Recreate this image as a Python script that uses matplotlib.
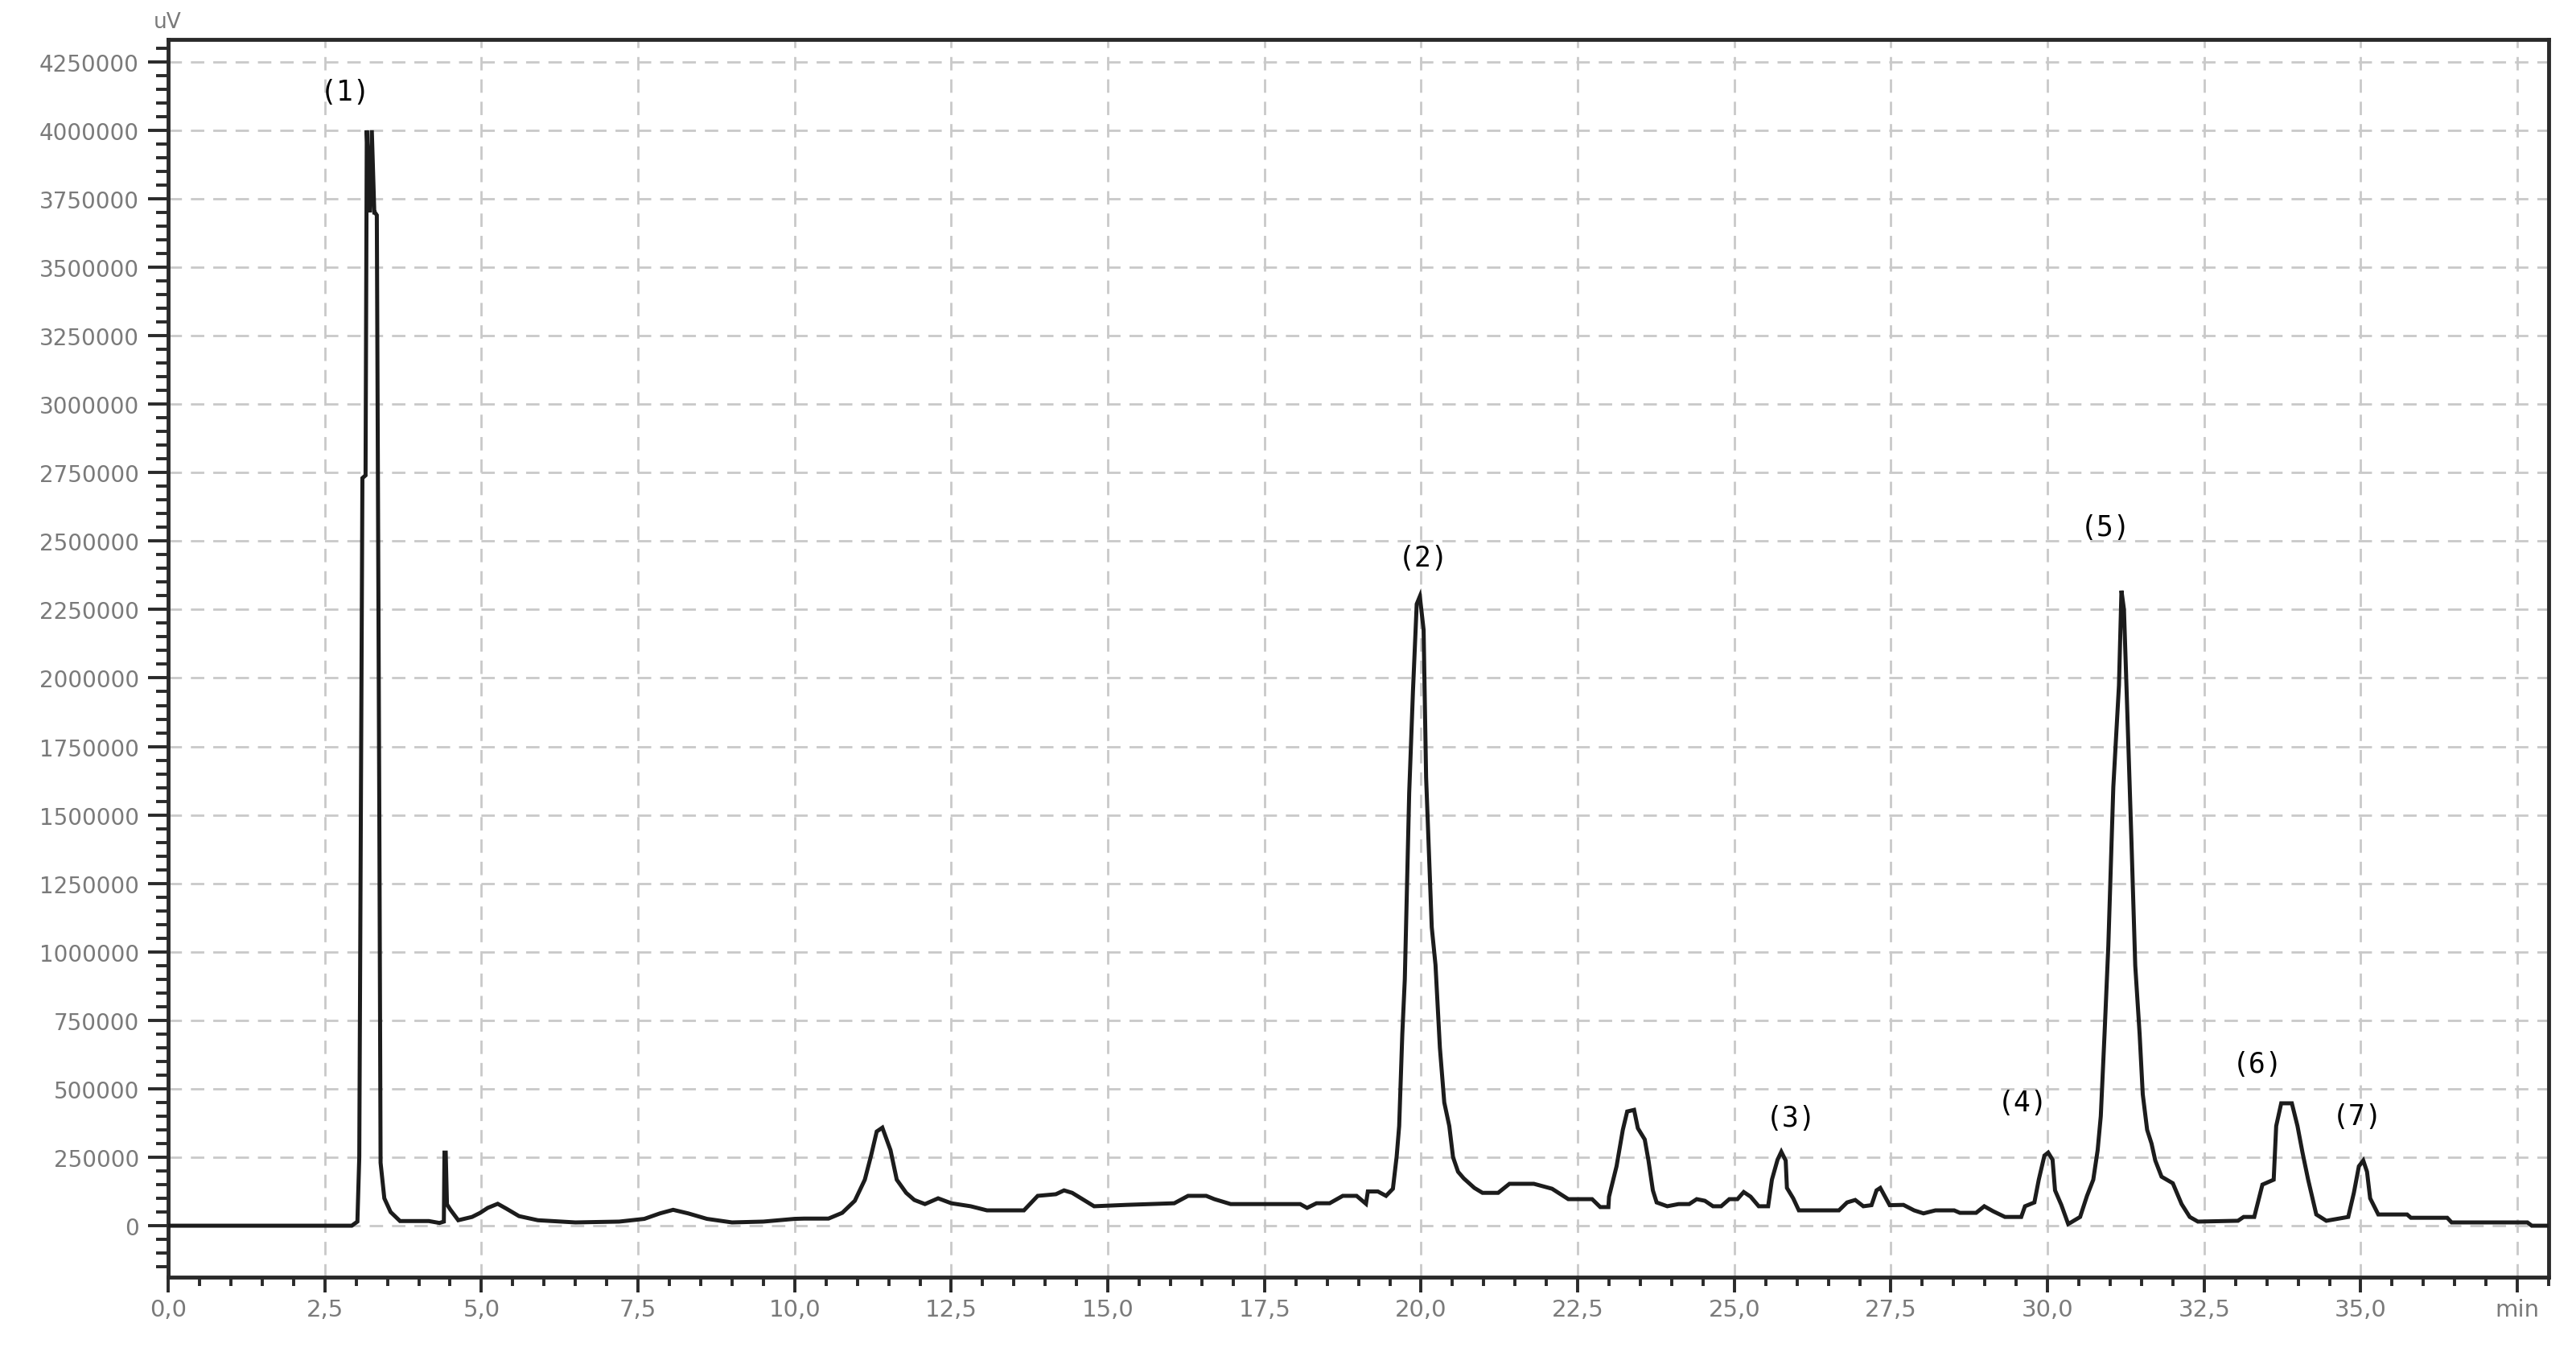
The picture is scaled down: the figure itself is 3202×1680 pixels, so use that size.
import matplotlib
matplotlib.use("Agg")
import matplotlib.pyplot as plt
from matplotlib.ticker import MultipleLocator, FixedLocator, FixedFormatter

# ---- data ----
time_min = [
    0.00, 2.93, 3.02, 3.05, 3.10, 3.15, 3.17, 3.22, 3.25, 3.29, 3.30, 3.33, 3.37, 3.39, 3.45, 3.55, 3.70,
    4.16, 4.33, 4.40, 4.41, 4.43, 4.45, 4.50, 4.63, 4.85, 4.98, 5.10, 5.26, 5.40,
    5.60, 5.90, 6.50, 7.20, 7.60, 7.85, 8.06, 8.30, 8.60, 9.00, 9.50, 10.00,
    10.15, 10.54, 10.76, 10.96, 11.12, 11.22, 11.31, 11.40, 11.53, 11.63, 11.78,
    11.91, 12.08, 12.29, 12.50, 12.81, 13.07, 13.66, 13.88, 14.17, 14.30, 14.43,
    14.78, 15.29, 16.06, 16.28, 16.57, 16.70, 16.96, 18.07, 18.18, 18.33, 18.54,
    18.75, 18.97, 19.12, 19.15, 19.31, 19.44, 19.55, 19.61, 19.65, 19.70, 19.74,
    19.81, 19.87, 19.93, 19.98, 20.04, 20.08, 20.17, 20.23, 20.30, 20.37, 20.45,
    20.51, 20.59, 20.68, 20.85, 20.98, 21.23, 21.41, 21.80, 22.09, 22.35, 22.73,
    22.86, 22.99, 23.00, 23.12, 23.22, 23.29, 23.40, 23.46, 23.57, 23.63, 23.70,
    23.76, 23.93, 24.11, 24.28, 24.40, 24.53, 24.66, 24.79, 24.92, 25.05, 25.15,
    25.26, 25.39, 25.54, 25.60, 25.69, 25.75, 25.82, 25.84, 25.94, 26.03, 26.67,
    26.80, 26.93, 27.06, 27.19, 27.27, 27.33, 27.42, 27.48, 27.70, 27.87, 28.02,
    28.21, 28.51, 28.60, 28.86, 28.99, 29.13, 29.32, 29.58, 29.64, 29.79, 29.86,
    29.95, 30.01, 30.08, 30.12, 30.22, 30.33, 30.52, 30.63, 30.73, 30.80, 30.85,
    30.91, 30.97, 31.05, 31.14, 31.18, 31.22, 31.27, 31.34, 31.40, 31.47, 31.52,
    31.59, 31.66, 31.72, 31.82, 32.00, 32.14, 32.27, 32.40, 33.04, 33.13, 33.30,
    33.43, 33.61, 33.65, 33.73, 33.90, 33.99, 34.07, 34.16, 34.29, 34.45, 34.80,
    34.89, 34.97, 35.04, 35.10, 35.15, 35.28, 35.74, 35.80, 36.38, 36.45, 37.66,
    37.73, 38.00,
]
signal_uV = [
    0, 0, 15000, 250000, 2730000, 2740000, 4000000, 3700000, 4000000, 3700000,
    3700000, 3690000, 1500000, 230000, 100000, 50000, 17000,
    17000, 10000, 15000, 267000, 267000, 78000, 60000, 20000, 32000, 47000, 65000,
    80000, 62000,
    35000, 20000, 12000, 15000, 25000, 45000, 58000, 45000, 25000, 12000, 15000,
    25000,
    26000, 26000, 47000, 91000, 168000, 256000, 344000, 358000, 276000, 168000,
    120000,
    94000, 79000, 100000, 82000, 71000, 56000, 56000, 109000, 115000, 129000,
    120000,
    71000, 76000, 82000, 109000, 109000, 97000, 79000, 79000, 65000, 82000, 82000,
    109000, 109000, 80000, 125000, 125000, 109000, 135000, 253000, 364000, 700000,
    900000,
    1580000, 1951000, 2270000, 2298000, 2176000, 1637000, 1090000, 952000, 650000,
    450000, 364000,
    250000, 197000, 173000, 138000, 120000, 120000, 153000, 153000, 135000, 97000,
    97000,
    68000, 68000, 106000, 217000, 350000, 417000, 423000, 356000, 315000, 238000,
    129000,
    85000, 71000, 79000, 79000, 97000, 91000, 71000, 71000, 97000, 97000, 123000,
    106000, 71000, 71000, 168000, 241000, 270000, 238000, 138000, 100000, 56000,
    56000,
    85000, 94000, 71000, 75000, 129000, 138000, 100000, 75000, 76000, 56000, 45000,
    56000, 56000, 47000, 47000, 71000, 53000, 32000, 32000, 71000, 85000, 168000,
    256000, 267000, 241000, 129000, 76000, 6000, 32000, 109000, 168000, 276000,
    400000,
    700000, 1020000, 1602000, 1973000, 2319000, 2250000, 1900000, 1400000, 950000,
    700000, 480000,
    350000, 300000, 238000, 179000, 155000, 79000, 32000, 15000, 18000, 32000,
    32000,
    150000, 168000, 364000, 447000, 447000, 364000, 267000, 168000, 41000, 18000,
    32000,
    120000, 217000, 238000, 197000, 100000, 41000, 41000, 29000, 29000, 12000,
    12000,
    0, 0,
]

peak_labels = ["(1)", "(2)", "(3)", "(4)", "(5)", "(6)", "(7)"]
peak_label_t = [2.82, 20.03, 25.90, 29.60, 30.92, 33.35, 34.94]
peak_label_v = [4141000, 2440000, 394000, 449000, 2550000, 591000, 399000]

x_tick_values = [0.0, 2.5, 5.0, 7.5, 10.0, 12.5, 15.0, 17.5, 20.0, 22.5, 25.0,
                 27.5, 30.0, 32.5, 35.0, 37.5]
x_tick_labels = ["0,0", "2,5", "5,0", "7,5", "10,0", "12,5", "15,0", "17,5",
                 "20,0", "22,5", "25,0", "27,5", "30,0", "32,5", "35,0", "min"]
y_tick_values = [i * 250000 for i in range(18)]
y_tick_labels = [str(v) for v in y_tick_values]

# ---- figure ----
fig = plt.figure(figsize=(32.02, 16.81), dpi=100)
ax = fig.add_axes([0.0653, 0.0553, 0.9894 - 0.0653, 0.9703 - 0.0553])

ax.set_xlim(0, 38.0)
ax.set_ylim(-188000, 4332000)

ax.xaxis.set_major_locator(FixedLocator(x_tick_values))
ax.xaxis.set_major_formatter(FixedFormatter(x_tick_labels))
ax.xaxis.set_minor_locator(MultipleLocator(0.5))
ax.yaxis.set_major_locator(FixedLocator(y_tick_values))
ax.yaxis.set_major_formatter(FixedFormatter(y_tick_labels))
ax.yaxis.set_minor_locator(MultipleLocator(50000))

ax.grid(True, which="major", color="#c9c9c9", linestyle=(0, (6, 4)),
        linewidth=2.0, zorder=0)
ax.set_axisbelow(True)

ax.plot(time_min, signal_uV, color="#1c1c1c", linewidth=3.6, zorder=3,
        solid_joinstyle="miter")

for lab, t, v in zip(peak_labels, peak_label_t, peak_label_v):
    ax.text(t, v, lab, ha="center", va="center", fontsize=25,
            family="DejaVu Sans Mono", color="black", zorder=4)

for s in ax.spines.values():
    s.set_linewidth(3.5)
    s.set_color("#2a2a2a")

ax.tick_params(axis="y", which="major", direction="out", length=18, width=2.8,
               color="#2a2a2a", labelsize=20, labelcolor="#7a7a7a", pad=8)
ax.tick_params(axis="y", which="minor", direction="out", length=11, width=2.8,
               color="#2a2a2a")
ax.tick_params(axis="x", which="major", direction="out", length=14, width=2.8,
               color="#2a2a2a", labelsize=21, labelcolor="#7a7a7a", pad=5)
ax.tick_params(axis="x", which="minor", direction="out", length=8, width=2.8,
               color="#2a2a2a")

fig.text(208 / 3202, 1 - 28 / 1681, "uV", ha="center", va="center",
         fontsize=19, color="#7a7a7a")

fig.savefig("out.png", dpi=100, facecolor="white")
